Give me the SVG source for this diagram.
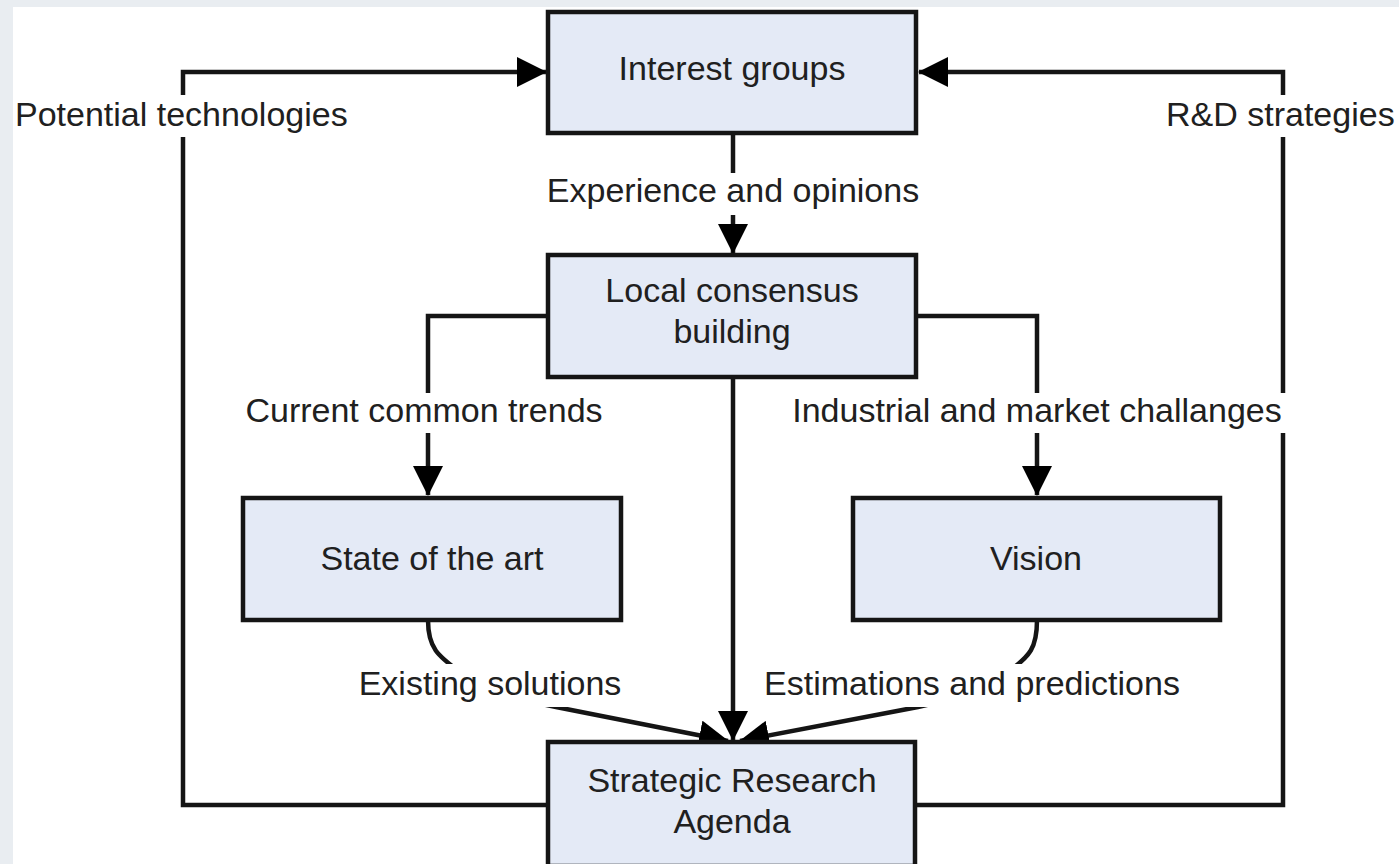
<svg xmlns="http://www.w3.org/2000/svg" width="1399" height="864" viewBox="0 0 1399 864">
<style>
.box{fill:#e4eaf6;stroke:#151515;stroke-width:4.5}
.t{font-family:"Liberation Sans",Arial,sans-serif;font-size:34px;fill:#202020}
.c{text-anchor:middle}
.ln{fill:none;stroke:#151515;stroke-width:4.5}
.lb{fill:#ffffff}
</style>
<defs>
<marker id="ah" markerUnits="userSpaceOnUse" markerWidth="30" markerHeight="30" viewBox="0 0 30 30" refX="29" refY="15" orient="auto">
<path d="M0,0 L30,15 L0,30 Z" fill="#000"/>
</marker>
</defs>
<rect x="0" y="0" width="1399" height="864" fill="#e9edf1"/>
<rect x="13" y="7" width="1386" height="857" fill="#ffffff"/>
<g id="connectors">
<path class="ln" d="M548,805 L183,805 L183,72 L546,72" marker-end="url(#ah)"/>
<path class="ln" d="M917,805 L1283,805 L1283,72 L919,72" marker-end="url(#ah)"/>
<path class="ln" d="M733,133 L733,253" marker-end="url(#ah)"/>
<path class="ln" d="M733,377 L733,740" marker-end="url(#ah)"/>
<path class="ln" d="M548,316 L428,316 L428,495" marker-end="url(#ah)"/>
<path class="ln" d="M917,316 L1037,316 L1037,495" marker-end="url(#ah)"/>
<path class="ln" d="M428,620 C428,648 438,656 460,672 C490,692 520,700 556,707 L728,741" marker-end="url(#ah)"/>
<path class="ln" d="M1037,620 C1037,648 1030,656 1008,672 C980,690 950,700 918,707 L740,741" marker-end="url(#ah)"/>
</g>
<g id="labels">
<rect class="lb" x="13" y="95" width="339" height="42"/>
<text class="t" x="15" y="126">Potential technologies</text>
<rect class="lb" x="1162" y="95" width="237" height="42"/>
<text class="t" x="1166" y="126">R&amp;D strategies</text>
<rect class="lb" x="540" y="173" width="385" height="42"/>
<text class="t c" x="733" y="202">Experience and opinions</text>
<rect class="lb" x="239" y="393" width="369" height="40"/>
<text class="t c" x="424" y="422">Current common trends</text>
<rect class="lb" x="786" y="393" width="502" height="40"/>
<text class="t c" x="1037" y="422">Industrial and market challanges</text>
<rect class="lb" x="352" y="664" width="276" height="43"/>
<text class="t c" x="490" y="695">Existing solutions</text>
<rect class="lb" x="756" y="664" width="434" height="43"/>
<text class="t c" x="972" y="695">Estimations and predictions</text>
</g>
<g id="interest-groups">
<rect class="box" x="548" y="12" width="368" height="121"/>
<text class="t c" x="732" y="80">Interest groups</text>
</g>
<g id="local-consensus">
<rect class="box" x="548" y="255" width="368" height="122"/>
<text class="t c" x="732" y="302">Local consensus</text>
<text class="t c" x="732" y="343">building</text>
</g>
<g id="state-of-the-art">
<rect class="box" x="243" y="498" width="378" height="122"/>
<text class="t c" x="432" y="570">State of the art</text>
</g>
<g id="vision">
<rect class="box" x="853" y="498" width="367" height="122"/>
<text class="t c" x="1036" y="570">Vision</text>
</g>
<g id="sra">
<rect class="box" x="548" y="742" width="367" height="124"/>
<text class="t c" x="732" y="792">Strategic Research</text>
<text class="t c" x="732" y="833">Agenda</text>
</g>
</svg>
